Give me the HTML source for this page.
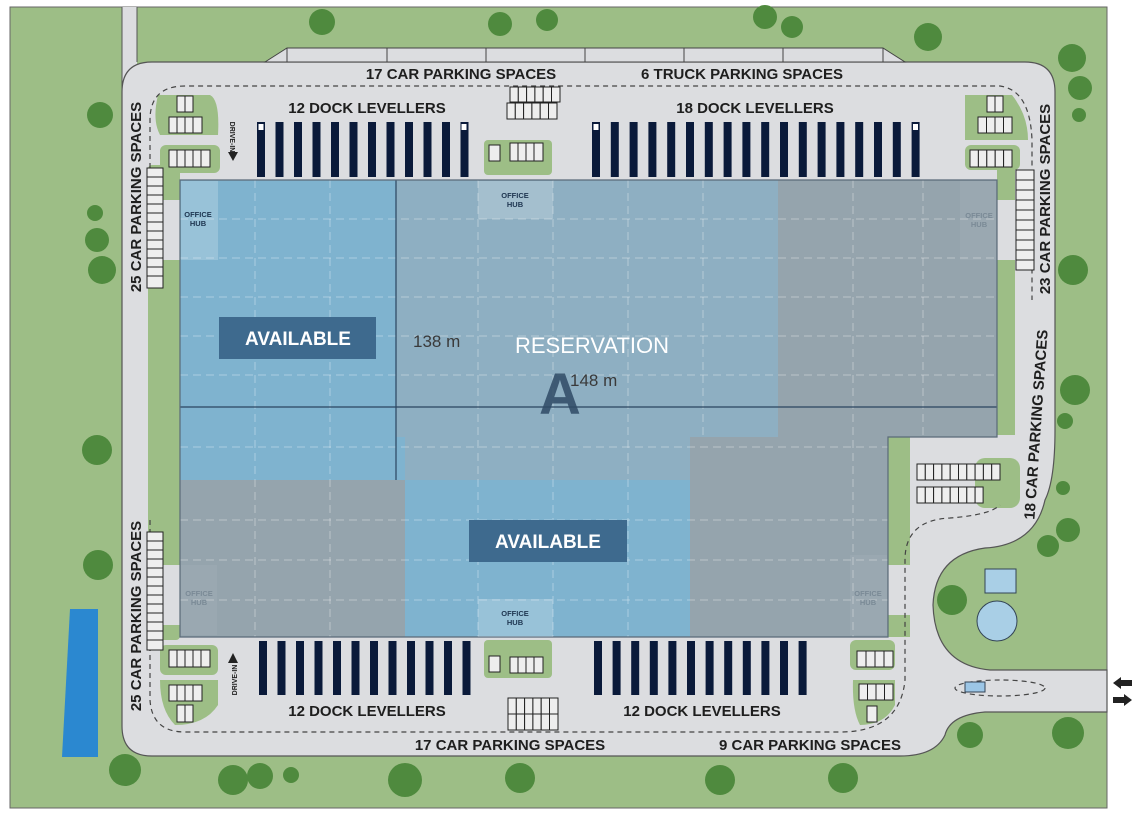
<!DOCTYPE html>
<html><head><meta charset="utf-8"><style>
html,body{margin:0;padding:0;background:#fff;}
svg{display:block;font-family:"Liberation Sans",sans-serif;}
</style></head><body>
<svg width="1139" height="815" viewBox="0 0 1139 815" xmlns="http://www.w3.org/2000/svg">
<rect x="0" y="0" width="1139" height="815" fill="#fff"/>
<rect x="10" y="7" width="1097" height="801" fill="#9dbe86" stroke="#666" stroke-width="1"/>
<!-- pavement -->
<rect x="122" y="7" width="15" height="80" fill="#dcdde0"/>
<line x1="122" y1="7" x2="122" y2="90" stroke="#555"/>
<line x1="137" y1="7" x2="137" y2="62" stroke="#555"/>
<path d="M152,62 H1025 Q1055,62 1055,92 V430 Q1055,480 1045,500 Q1035,545 985,548 Q935,555 933,605 Q935,665 990,670 H1107 V712 H985 Q950,715 945,735 Q935,756 900,756 H152 Q122,756 122,726 V92 Q122,62 152,62 Z" fill="#dcdde0" stroke="#555" stroke-width="1.2"/>
<!-- truck parking -->
<path d="M265,62 L287,48 H883 L905,62 Z" fill="#dcdde0" stroke="#444"/>
<g stroke="#444" stroke-width="1"><line x1="387" y1="48" x2="387" y2="62"/><line x1="486" y1="48" x2="486" y2="62"/><line x1="585" y1="48" x2="585" y2="62"/><line x1="684" y1="48" x2="684" y2="62"/><line x1="783" y1="48" x2="783" y2="62"/><line x1="883" y1="48" x2="883" y2="62"/><line x1="287" y1="48" x2="287" y2="62"/></g>
<!-- green islands -->
<g fill="#9dbe86">
<rect x="148" y="165" width="32" height="475" rx="4"/>
<path d="M158,95 H210 Q220,100 218,135 H160 Q152,120 158,95Z"/>
<rect x="160" y="145" width="60" height="28" rx="6"/>
<rect x="160" y="645" width="58" height="30" rx="6"/>
<path d="M160,680 H218 V705 Q205,725 175,725 Q160,710 160,680Z"/>
<rect x="484" y="140" width="68" height="35" rx="4"/>
<rect x="484" y="640" width="68" height="38" rx="4"/>
<rect x="997" y="170" width="18" height="265"/>
<path d="M965,95 H1012 Q1028,115 1028,140 H965Z"/>
<rect x="965" y="145" width="55" height="25" rx="6"/>
<rect x="888" y="437" width="22" height="200"/>
<rect x="975" y="458" width="45" height="50" rx="10"/>
<rect x="850" y="640" width="45" height="30" rx="6"/>
<path d="M853,680 H895 V705 Q885,725 860,725 Q852,710 853,680Z"/>
</g>
<!-- light gaps at office hubs -->
<g fill="#dcdde0"><rect x="150" y="200" width="30" height="60"/><rect x="150" y="565" width="30" height="60"/><rect x="997" y="200" width="18" height="60"/><rect x="888" y="565" width="22" height="50"/></g>
<!-- dashed route -->
<path d="M150,240 V120 Q150,86 185,86 H1000 Q1030,90 1032,140 V300" fill="none" stroke="#444" stroke-width="1.2" stroke-dasharray="5,4"/>
<path d="M150,520 V700 Q152,732 185,732 H840 Q900,732 905,680 V560 Q905,520 950,518 Q990,515 1000,505" fill="none" stroke="#444" stroke-width="1.2" stroke-dasharray="5,4"/>
<ellipse cx="1000" cy="688" rx="45" ry="8" fill="none" stroke="#444" stroke-width="1.2" stroke-dasharray="5,4"/>
<rect x="965" y="682" width="20" height="10" fill="#9cc6e6" stroke="#345"/>
<!-- building regions -->
<rect x="180" y="180" width="225" height="300" fill="#7fb3cf"/>
<rect x="396" y="180" width="382" height="257" fill="#8eafc2"/>
<rect x="405" y="437" width="285" height="43" fill="#8eafc2"/>
<rect x="778" y="180" width="219" height="257" fill="#95a4ad"/>
<rect x="690" y="437" width="198" height="200" fill="#95a4ad"/>
<rect x="180" y="480" width="225" height="157" fill="#95a4ad"/>
<rect x="405" y="480" width="285" height="157" fill="#7fb3cf"/>
<!-- grid -->
<g stroke="#fff" stroke-opacity="0.35" stroke-dasharray="8,5" stroke-width="1">
<line x1="255" y1="180" x2="255" y2="637"/><line x1="330" y1="180" x2="330" y2="637"/><line x1="478" y1="180" x2="478" y2="637"/><line x1="553" y1="180" x2="553" y2="637"/><line x1="628" y1="180" x2="628" y2="637"/><line x1="703" y1="180" x2="703" y2="437"/><line x1="853" y1="180" x2="853" y2="637"/><line x1="923" y1="180" x2="923" y2="437"/>
<line x1="180" y1="219" x2="997" y2="219"/><line x1="180" y1="258" x2="997" y2="258"/><line x1="180" y1="297" x2="997" y2="297"/><line x1="180" y1="336" x2="997" y2="336"/><line x1="180" y1="375" x2="997" y2="375"/><line x1="180" y1="447" x2="888" y2="447"/><line x1="180" y1="520" x2="888" y2="520"/><line x1="180" y1="560" x2="888" y2="560"/><line x1="180" y1="600" x2="888" y2="600"/>
</g>
<line x1="396" y1="180" x2="396" y2="480" stroke="#2a4560" stroke-width="1.2"/>
<line x1="180" y1="407" x2="997" y2="407" stroke="#2a4560" stroke-width="1.2"/>
<path d="M180,180 H997 V437 H888 V637 H180 Z" fill="none" stroke="#5a6a78" stroke-width="1.2"/>
<!-- office hubs -->
<g fill="#fff" fill-opacity="0.2"><rect x="181" y="181" width="37" height="79"/><rect x="478" y="181" width="75" height="38"/><rect x="478" y="599" width="75" height="38"/><rect x="960" y="181" width="36" height="79" fill-opacity="0.05"/><rect x="181" y="565" width="36" height="70" fill-opacity="0.05"/><rect x="850" y="555" width="37" height="80" fill-opacity="0.05"/></g>
<g font-size="7.5" font-weight="bold" text-anchor="middle" fill="#1e3550">
<text x="198" y="217">OFFICE</text><text x="198" y="226">HUB</text>
<text x="515" y="198">OFFICE</text><text x="515" y="207">HUB</text>
<text x="515" y="616">OFFICE</text><text x="515" y="625">HUB</text>
</g>
<g font-size="7.5" font-weight="bold" text-anchor="middle" fill="#7a8a96">
<text x="979" y="218">OFFICE</text><text x="979" y="227">HUB</text>
<text x="199" y="596">OFFICE</text><text x="199" y="605">HUB</text>
<text x="868" y="596">OFFICE</text><text x="868" y="605">HUB</text>
</g>
<!-- labels in building -->
<rect x="219" y="317" width="157" height="42" fill="#3e6a8e"/>
<text x="298" y="345" font-size="19" font-weight="bold" fill="#fff" text-anchor="middle">AVAILABLE</text>
<rect x="469" y="520" width="158" height="42" fill="#3e6a8e"/>
<text x="548" y="548" font-size="19" font-weight="bold" fill="#fff" text-anchor="middle">AVAILABLE</text>
<text x="592" y="353" font-size="22" fill="#fff" text-anchor="middle">RESERVATION</text>
<text x="413" y="347" font-size="17" fill="#3a3a3a">138 m</text>
<text x="560" y="414" font-size="58" font-weight="bold" fill="#2f4b66" text-anchor="middle" opacity="0.85">A</text>
<text x="570" y="386" font-size="17" fill="#3a3a3a">148 m</text>
<!-- dock levellers -->
<g id="dock">
</g>
<g fill="#0a1a3a">
<!-- top left 12 -->
<rect x="257" y="122" width="8" height="55"/><rect x="275.5" y="122" width="8" height="55"/><rect x="294" y="122" width="8" height="55"/><rect x="312.5" y="122" width="8" height="55"/><rect x="331" y="122" width="8" height="55"/><rect x="349.5" y="122" width="8" height="55"/><rect x="368" y="122" width="8" height="55"/><rect x="386.5" y="122" width="8" height="55"/><rect x="405" y="122" width="8" height="55"/><rect x="423.5" y="122" width="8" height="55"/><rect x="442" y="122" width="8" height="55"/><rect x="460.5" y="122" width="8" height="55"/>
<!-- top right 18 -->
<rect x="592" y="122" width="8" height="55"/><rect x="610.8" y="122" width="8" height="55"/><rect x="629.6" y="122" width="8" height="55"/><rect x="648.4" y="122" width="8" height="55"/><rect x="667.2" y="122" width="8" height="55"/><rect x="686" y="122" width="8" height="55"/><rect x="704.8" y="122" width="8" height="55"/><rect x="723.6" y="122" width="8" height="55"/><rect x="742.4" y="122" width="8" height="55"/><rect x="761.2" y="122" width="8" height="55"/><rect x="780" y="122" width="8" height="55"/><rect x="798.8" y="122" width="8" height="55"/><rect x="817.6" y="122" width="8" height="55"/><rect x="836.4" y="122" width="8" height="55"/><rect x="855.2" y="122" width="8" height="55"/><rect x="874" y="122" width="8" height="55"/><rect x="892.8" y="122" width="8" height="55"/><rect x="911.6" y="122" width="8" height="55"/>
<!-- bottom left 12 -->
<rect x="259" y="641" width="8" height="54"/><rect x="277.5" y="641" width="8" height="54"/><rect x="296" y="641" width="8" height="54"/><rect x="314.5" y="641" width="8" height="54"/><rect x="333" y="641" width="8" height="54"/><rect x="351.5" y="641" width="8" height="54"/><rect x="370" y="641" width="8" height="54"/><rect x="388.5" y="641" width="8" height="54"/><rect x="407" y="641" width="8" height="54"/><rect x="425.5" y="641" width="8" height="54"/><rect x="444" y="641" width="8" height="54"/><rect x="462.5" y="641" width="8" height="54"/>
<!-- bottom right 12 -->
<rect x="594" y="641" width="8" height="54"/><rect x="612.6" y="641" width="8" height="54"/><rect x="631.2" y="641" width="8" height="54"/><rect x="649.8" y="641" width="8" height="54"/><rect x="668.4" y="641" width="8" height="54"/><rect x="687" y="641" width="8" height="54"/><rect x="705.6" y="641" width="8" height="54"/><rect x="724.2" y="641" width="8" height="54"/><rect x="742.8" y="641" width="8" height="54"/><rect x="761.4" y="641" width="8" height="54"/><rect x="780" y="641" width="8" height="54"/><rect x="798.6" y="641" width="8" height="54"/>
</g>
<g fill="#fff"><rect x="258.5" y="124" width="5" height="6"/><rect x="461.5" y="124" width="5" height="6"/><rect x="593.5" y="124" width="5" height="6"/><rect x="913" y="124" width="5" height="6"/></g>
<!-- parking stalls -->
<g fill="#eee" stroke="#222" stroke-width="1">
<rect x="177" y="96" width="8" height="16"/><rect x="185" y="96" width="8" height="16"/>
<rect x="169" y="117" width="8" height="16"/><rect x="177" y="117" width="8" height="16"/><rect x="185" y="117" width="8" height="16"/><rect x="193" y="117" width="9" height="16"/>
<rect x="169" y="150" width="8" height="17"/><rect x="177" y="150" width="8" height="17"/><rect x="185" y="150" width="8" height="17"/><rect x="193" y="150" width="8" height="17"/><rect x="201" y="150" width="9" height="17"/>
<rect x="169" y="650" width="8" height="17"/><rect x="177" y="650" width="8" height="17"/><rect x="185" y="650" width="8" height="17"/><rect x="193" y="650" width="8" height="17"/><rect x="201" y="650" width="9" height="17"/>
<rect x="169" y="685" width="8" height="16"/><rect x="177" y="685" width="8" height="16"/><rect x="185" y="685" width="8" height="16"/><rect x="193" y="685" width="9" height="16"/>
<rect x="177" y="705" width="8" height="17"/><rect x="185" y="705" width="8" height="17"/>
<rect x="510" y="87" width="8.3" height="15"/><rect x="518.3" y="87" width="8.3" height="15"/><rect x="526.6" y="87" width="8.3" height="15"/><rect x="534.9" y="87" width="8.3" height="15"/><rect x="543.2" y="87" width="8.3" height="15"/><rect x="551.5" y="87" width="8.5" height="15"/>
<rect x="507" y="103" width="8.3" height="16"/><rect x="515.3" y="103" width="8.3" height="16"/><rect x="523.6" y="103" width="8.3" height="16"/><rect x="531.9" y="103" width="8.3" height="16"/><rect x="540.2" y="103" width="8.3" height="16"/><rect x="548.5" y="103" width="8.5" height="16"/>
<rect x="489" y="145" width="11" height="16"/>
<rect x="510" y="143" width="8" height="18"/><rect x="518" y="143" width="8" height="18"/><rect x="526" y="143" width="8" height="18"/><rect x="534" y="143" width="9" height="18"/>
<rect x="508" y="698" width="8.3" height="16"/><rect x="516.3" y="698" width="8.3" height="16"/><rect x="524.6" y="698" width="8.3" height="16"/><rect x="532.9" y="698" width="8.3" height="16"/><rect x="541.2" y="698" width="8.3" height="16"/><rect x="549.5" y="698" width="8.5" height="16"/>
<rect x="508" y="714" width="8.3" height="16"/><rect x="516.3" y="714" width="8.3" height="16"/><rect x="524.6" y="714" width="8.3" height="16"/><rect x="532.9" y="714" width="8.3" height="16"/><rect x="541.2" y="714" width="8.3" height="16"/><rect x="549.5" y="714" width="8.5" height="16"/>
<rect x="489" y="656" width="11" height="16"/>
<rect x="510" y="657" width="8" height="16"/><rect x="518" y="657" width="8" height="16"/><rect x="526" y="657" width="8" height="16"/><rect x="534" y="657" width="9" height="16"/>
<rect x="987" y="96" width="8" height="16"/><rect x="995" y="96" width="8" height="16"/>
<rect x="978" y="117" width="8.5" height="16"/><rect x="986.5" y="117" width="8.5" height="16"/><rect x="995" y="117" width="8.5" height="16"/><rect x="1003.5" y="117" width="8.5" height="16"/>
<rect x="970" y="150" width="8.4" height="17"/><rect x="978.4" y="150" width="8.4" height="17"/><rect x="986.8" y="150" width="8.4" height="17"/><rect x="995.2" y="150" width="8.4" height="17"/><rect x="1003.6" y="150" width="8.4" height="17"/>
<rect x="917" y="464" width="8.3" height="16"/><rect x="925.3" y="464" width="8.3" height="16"/><rect x="933.6" y="464" width="8.3" height="16"/><rect x="941.9" y="464" width="8.3" height="16"/><rect x="950.2" y="464" width="8.3" height="16"/><rect x="958.5" y="464" width="8.3" height="16"/><rect x="966.8" y="464" width="8.3" height="16"/><rect x="975.1" y="464" width="8.3" height="16"/><rect x="983.4" y="464" width="8.3" height="16"/><rect x="991.7" y="464" width="8.3" height="16"/>
<rect x="917" y="487" width="8.3" height="16"/><rect x="925.3" y="487" width="8.3" height="16"/><rect x="933.6" y="487" width="8.3" height="16"/><rect x="941.9" y="487" width="8.3" height="16"/><rect x="950.2" y="487" width="8.3" height="16"/><rect x="958.5" y="487" width="8.3" height="16"/><rect x="966.8" y="487" width="8.3" height="16"/><rect x="975.1" y="487" width="8" height="16"/>
<rect x="857" y="651" width="9" height="16"/><rect x="866" y="651" width="9" height="16"/><rect x="875" y="651" width="9" height="16"/><rect x="884" y="651" width="9" height="16"/>
<rect x="859" y="684" width="8.5" height="16"/><rect x="867.5" y="684" width="8.5" height="16"/><rect x="876" y="684" width="8.5" height="16"/><rect x="884.5" y="684" width="8.5" height="16"/>
<rect x="867" y="706" width="10" height="16"/>
</g>
<!-- column stalls -->
<g fill="#eee" stroke="#222" stroke-width="1">
<rect x="147" y="168" width="16" height="120"/><rect x="147" y="532" width="16" height="118"/><rect x="1016" y="170" width="18" height="100"/>
</g>
<g stroke="#222" stroke-width="1">
<path d="M147,177H163M147,186H163M147,195H163M147,204H163M147,213H163M147,222H163M147,231H163M147,240H163M147,249H163M147,258H163M147,267H163M147,276H163"/>
<path d="M147,541H163M147,550H163M147,559H163M147,568H163M147,577H163M147,586H163M147,595H163M147,604H163M147,613H163M147,622H163M147,631H163M147,640H163"/>
<path d="M1016,180H1034M1016,190H1034M1016,200H1034M1016,210H1034M1016,220H1034M1016,230H1034M1016,240H1034M1016,250H1034M1016,260H1034"/>
</g>
<!-- loop features -->
<rect x="985" y="569" width="31" height="24" fill="#a9cfe6" stroke="#345"/>
<circle cx="997" cy="621" r="20" fill="#a9cfe6" stroke="#345"/>
<!-- water -->
<polygon points="70,609 98,609 98,757 62,757" fill="#2b88d0"/>
<!-- trees -->
<g fill="#4f8a3e">
<circle cx="322" cy="22" r="13"/><circle cx="500" cy="24" r="12"/><circle cx="547" cy="20" r="11"/><circle cx="765" cy="17" r="12"/><circle cx="792" cy="27" r="11"/><circle cx="928" cy="37" r="14"/><circle cx="1072" cy="58" r="14"/><circle cx="1080" cy="88" r="12"/><circle cx="1079" cy="115" r="7"/>
<circle cx="100" cy="115" r="13"/><circle cx="95" cy="213" r="8"/><circle cx="97" cy="240" r="12"/><circle cx="102" cy="270" r="14"/><circle cx="1073" cy="270" r="15"/><circle cx="1075" cy="390" r="15"/><circle cx="1065" cy="421" r="8"/><circle cx="97" cy="450" r="15"/><circle cx="98" cy="565" r="15"/><circle cx="1063" cy="488" r="7"/><circle cx="1068" cy="530" r="12"/><circle cx="1048" cy="546" r="11"/><circle cx="952" cy="600" r="15"/><circle cx="970" cy="735" r="13"/><circle cx="1068" cy="733" r="16"/><circle cx="125" cy="770" r="16"/><circle cx="233" cy="780" r="15"/><circle cx="260" cy="776" r="13"/><circle cx="291" cy="775" r="8"/><circle cx="405" cy="780" r="17"/><circle cx="520" cy="778" r="15"/><circle cx="720" cy="780" r="15"/><circle cx="843" cy="778" r="15"/><circle cx="1040" cy="775" r="0"/>
</g>
<!-- text labels -->
<g font-size="15" font-weight="bold" fill="#1e1e1e" text-anchor="middle">
<text x="461" y="79">17 CAR PARKING SPACES</text>
<text x="742" y="79">6 TRUCK PARKING SPACES</text>
<text x="367" y="113">12 DOCK LEVELLERS</text>
<text x="755" y="113">18 DOCK LEVELLERS</text>
<text x="367" y="716">12 DOCK LEVELLERS</text>
<text x="702" y="716">12 DOCK LEVELLERS</text>
<text x="510" y="750">17 CAR PARKING SPACES</text>
<text x="810" y="750">9 CAR PARKING SPACES</text>
<text transform="translate(141,197) rotate(-90)">25 CAR PARKING SPACES</text>
<text transform="translate(141,616) rotate(-90)">25 CAR PARKING SPACES</text>
<text transform="translate(1050,199) rotate(-90)">23 CAR PARKING SPACES</text>
<text transform="translate(1041,425) rotate(-86)">18 CAR PARKING SPACES</text>
</g>
<g font-size="7" font-weight="bold" fill="#222" text-anchor="middle">
<text transform="translate(230,137) rotate(90)">DRIVE-IN</text>
<text transform="translate(237,680) rotate(-90)">DRIVE-IN</text>
</g>
<polygon points="228,152 238,152 233,161" fill="#222"/>
<polygon points="228,663 238,663 233,653" fill="#222"/>
<!-- arrows -->
<polygon points="1113,683 1121,677 1121,680 1132,680 1132,686 1121,686 1121,689" fill="#222"/>
<polygon points="1132,700 1124,694 1124,697 1113,697 1113,703 1124,703 1124,706" fill="#222"/>
</svg>
</body></html>
